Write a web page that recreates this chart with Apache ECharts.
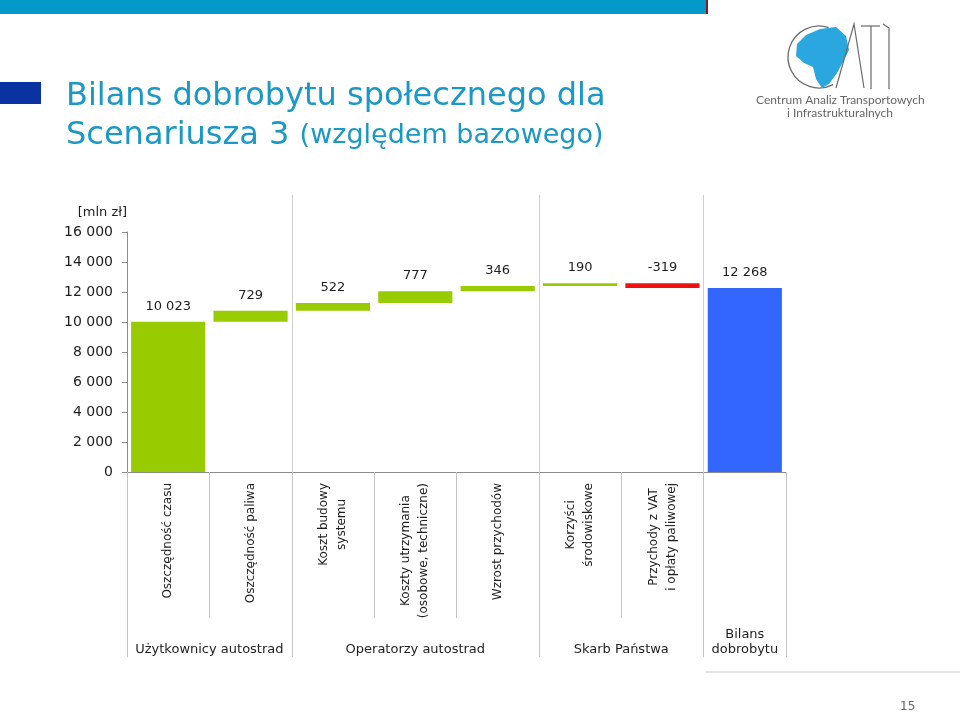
<!DOCTYPE html>
<html>
<head>
<meta charset="utf-8">
<script src="https://cdn.jsdelivr.net/npm/echarts@6/dist/echarts.min.js"></script>
<style>
  html, body { margin: 0; padding: 0; background: #ffffff; }
  #chart { width: 960px; height: 712px; }
</style>
</head>
<body>
<div id="chart"></div>
<script>
// ---- data ----
const categories = [
  'Oszczędność czasu',
  'Oszczędność paliwa',
  'Koszt budowy\nsystemu',
  'Koszty utrzymania\n(osobowe, techniczne)',
  'Wzrost przychodów',
  'Korzyści\nśrodowiskowe',
  'Przychody z VAT\ni opłaty paliwowej',
  ''
];
const values = [10023, 729, 522, 777, 346, 190, -319, 12268];
const isTotal = [true, false, false, false, false, false, false, true];
const groupNames = ['Użytkownicy autostrad', 'Operatorzy autostrad', 'Skarb Państwa', 'Bilans\ndobrobytu'];
const groupFirst = [0, 2, 5, 7];
const groupLast = [1, 4, 6, 7];
const yTicks = [0, 2000, 4000, 6000, 8000, 10000, 12000, 14000, 16000];
const yUnit = '[mln zł]';

// ---- helpers ----
const FONT = 'DejaVu Sans';
function fmt(v) { return String(v).replace(/\B(?=(\d{3})+(?!\d))/g, ' '); }

const bases = [], heights = [], colors = [];
let running = 0;
values.forEach((v, i) => {
  if (isTotal[i]) {
    bases.push(0); heights.push(v); running = v;
    colors.push(i === values.length - 1 ? '#3366ff' : '#99cc00');
  } else if (v >= 0) {
    bases.push(running); heights.push(v); running += v;
    colors.push('#99cc00');
  } else {
    running += v; bases.push(running); heights.push(-v);
    colors.push('#ee1111');
  }
});

const groupCenters = groupFirst.map((f, i) => (f + groupLast[i]) / 2);
const bounds = [groupFirst[0] - 0.5].concat(groupLast.map(l => l + 0.5));
const innerBounds = bounds.slice(1, -1);

const chart = echarts.init(document.getElementById('chart'), null, { renderer: 'canvas' });

const gridL = 127, gridR = 174;
const logoLine = { stroke: '#6a6a6a', lineWidth: 1.2, fill: null };

chart.setOption({
  animation: false,
  backgroundColor: '#ffffff',
  title: {
    left: 66, top: 77, padding: 0,
    text: '{a|Bilans dobrobytu społecznego dla}\n{a|Scenariusza 3 }{b|(względem bazowego)}',
    textStyle: {
      fontWeight: 'normal',
      rich: {
        a: { fontFamily: FONT, fontSize: 32, fontWeight: 'normal', color: '#1b98c6', lineHeight: 39 },
        b: { fontFamily: FONT, fontSize: 27, fontWeight: 'normal', color: '#1b98c6', lineHeight: 39 }
      }
    }
  },
  graphic: [
    { type: 'rect', shape: { x: 0, y: 0, width: 706, height: 14 }, style: { fill: '#0399c9' } },
    { type: 'rect', shape: { x: 706, y: 0, width: 2, height: 14 }, style: { fill: '#8b1a1a' } },
    { type: 'rect', shape: { x: 0, y: 82, width: 41, height: 22 }, style: { fill: '#0a32a0' } },
    { type: 'line', shape: { x1: 706, y1: 672, x2: 960, y2: 672 }, style: { stroke: '#e2e2e2', lineWidth: 2 } },
    { type: 'text', left: 900, top: 701, style: { text: '15', font: '12px ' + FONT, fill: '#666' } },
    // logo (decorative)
    { type: 'arc', shape: { cx: 819, cy: 57, r: 31, startAngle: Math.PI * 0.35, endAngle: Math.PI * 1.6 }, style: { stroke: '#6a6a6a', lineWidth: 1.3, fill: null } },
    { type: 'polygon', shape: { points: [[797, 44], [806, 35], [820, 29], [836, 27], [846, 36], [849, 50], [843, 62], [837, 73], [829, 84], [822, 88], [816, 79], [813, 67], [804, 63], [796, 56]] }, style: { fill: '#2aa7de' } },
    { type: 'polyline', shape: { points: [[836, 88], [854, 24], [864, 88]] }, style: logoLine },
    { type: 'polyline', shape: { points: [[861, 26], [880, 26]] }, style: logoLine },
    { type: 'polyline', shape: { points: [[871, 26], [871, 89]] }, style: logoLine },
    { type: 'polyline', shape: { points: [[883, 24], [889, 28], [889, 89]] }, style: logoLine },
    { type: 'text', left: 756, top: 94, style: { text: 'Centrum Analiz Transportowych', font: '12px Lato', fill: '#666' } },
    { type: 'text', left: 787, top: 107, style: { text: 'i Infrastrukturalnych', font: '12px Lato', fill: '#666' } }
  ],
  grid: [
    { left: gridL, right: gridR, top: 232, height: 240 },
    { left: gridL, right: gridR, top: 195, height: 277 },
    { left: gridL, right: gridR, top: 471, height: 1 }
  ],
  xAxis: [
    {
      type: 'category', gridIndex: 0, data: categories,
      axisLine: { lineStyle: { color: '#8c8c8c', width: 1 } },
      axisTick: { show: true, length: 146, interval: 0, alignWithLabel: false, lineStyle: { color: '#c4c4c4' } },
      axisLabel: {
        interval: 0, rotate: 90, margin: 11,
        formatter: function (v) {
          if (!v) return '';
          return v.split('\n').map(l => '{c|' + l + '}').join('\n');
        },
        rich: { c: { align: 'center', fontFamily: FONT, fontSize: 12, lineHeight: 18, color: '#1e1e1e' } }
      },
      splitLine: { show: false }
    },
    {
      type: 'value', gridIndex: 1, min: -0.5, max: categories.length - 0.5,
      axisLine: { show: false },
      axisLabel: { show: false },
      splitLine: { show: false },
      axisTick: { show: true, inside: true, length: 277, customValues: innerBounds, lineStyle: { color: '#cfcfcf' } }
    },
    {
      type: 'value', gridIndex: 2, min: -0.5, max: categories.length - 0.5,
      axisLine: { show: false },
      splitLine: { show: false },
      axisTick: { show: true, length: 185, customValues: bounds, lineStyle: { color: '#c4c4c4' } },
      axisLabel: {
        show: true, customValues: groupCenters, margin: 185, verticalAlign: 'bottom',
        fontFamily: FONT, fontSize: 13, lineHeight: 15, color: '#1e1e1e', align: 'center',
        formatter: function (v) {
          const i = groupCenters.findIndex(c => Math.abs(c - v) < 1e-6);
          return i >= 0 ? groupNames[i] : '';
        }
      }
    }
  ],
  yAxis: [
    {
      type: 'value', gridIndex: 0, min: yTicks[0], max: yTicks[yTicks.length - 1], interval: 2000,
      name: yUnit, nameLocation: 'end', nameGap: 13,
      nameTextStyle: { fontFamily: FONT, fontSize: 13, color: '#1e1e1e', align: 'right', padding: [0, 0, 0, 0] },
      axisLine: { show: true, lineStyle: { color: '#8c8c8c' } },
      axisTick: { show: true, length: 5, lineStyle: { color: '#8c8c8c' } },
      axisLabel: { fontFamily: FONT, fontSize: 14, color: '#1e1e1e', margin: 14, formatter: v => fmt(v) },
      splitLine: { show: false }
    },
    { type: 'value', gridIndex: 1, show: false },
    { type: 'value', gridIndex: 2, show: false }
  ],
  series: [
    {
      type: 'bar', name: 'base', stack: 'w', xAxisIndex: 0, yAxisIndex: 0,
      data: bases, silent: true, barCategoryGap: '10%',
      itemStyle: { color: 'rgba(0,0,0,0)' }, label: { show: false }
    },
    {
      type: 'bar', name: 'value', stack: 'w', xAxisIndex: 0, yAxisIndex: 0,
      barCategoryGap: '10%',
      data: heights.map((h, i) => ({ value: h, itemStyle: { color: colors[i] } })),
      label: {
        show: true, position: 'top', distance: 9,
        fontFamily: FONT, fontSize: 13, color: '#1e1e1e',
        formatter: p => fmt(values[p.dataIndex])
      }
    }
  ]
});
</script>
</body>
</html>
